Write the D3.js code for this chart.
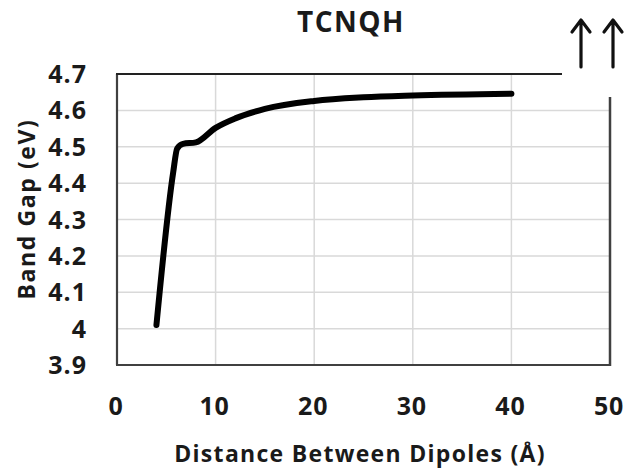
<!DOCTYPE html>
<html><head><meta charset="utf-8">
<script src="https://cdn.jsdelivr.net/npm/d3@7"></script>
<style>body{margin:0;background:#fff}text{font-family:"Open Sans",sans-serif;font-weight:700;fill:#1a1a1a}</style>
</head><body><svg id="c" width="628" height="468"></svg>
<script>
const distance = [4, 5.7, 6.1, 6.7, 8, 10, 12, 15, 20, 25, 30, 40];
const bandGap  = [4.01, 4.43, 4.495, 4.508, 4.512, 4.552, 4.578, 4.604, 4.626, 4.636, 4.641, 4.646];
const xTicks = [0, 10, 20, 30, 40, 50];
const yTicks = [3.9, 4, 4.1, 4.2, 4.3, 4.4, 4.5, 4.6, 4.7];
const title = "TCNQH";
const xTitle = "Distance Between Dipoles (Å)";
const yTitle = "Band Gap  (eV)";

const svg = d3.select("#c");
const L = 117, R = 610, T = 74, B = 365;
const x = d3.scaleLinear().domain([0, 50]).range([L, R]);
const y = d3.scaleLinear().domain([3.9, 4.7]).range([B, T]);

// grid
svg.append("g").selectAll("line").data(yTicks.filter(v => v > 3.9 && v < 4.7)).join("line")
  .attr("x1", L).attr("x2", R).attr("y1", d => y(d)).attr("y2", d => y(d))
  .attr("stroke", "#d9d9d9").attr("stroke-width", 1.5);
svg.append("g").selectAll("line").data(xTicks.filter(v => v > 0 && v < 50)).join("line")
  .attr("y1", T).attr("y2", B).attr("x1", d => x(d)).attr("x2", d => x(d))
  .attr("stroke", "#d9d9d9").attr("stroke-width", 1.5);

// frame
const ax = "#404040";
svg.append("line").attr("x1", L).attr("x2", L).attr("y1", T).attr("y2", B).attr("stroke", ax).attr("stroke-width", 2.2);
svg.append("line").attr("x1", L - 1).attr("x2", R + 1).attr("y1", B).attr("y2", B).attr("stroke", ax).attr("stroke-width", 2.2);
svg.append("line").attr("x1", L - 1).attr("x2", 562).attr("y1", T).attr("y2", T).attr("stroke", "#222").attr("stroke-width", 2.2);
svg.append("line").attr("x1", R).attr("x2", R).attr("y1", 97).attr("y2", B + 1).attr("stroke", ax).attr("stroke-width", 2.5);

// axes labels
svg.append("g").selectAll("text").data(yTicks).join("text")
  .attr("x", 87).attr("y", d => y(d) + 9).attr("text-anchor", "end")
  .attr("font-size", 25).attr("letter-spacing", 1).text(d => d === 4 ? "4" : d.toFixed(1));
svg.append("g").selectAll("text").data(xTicks).join("text")
  .attr("x", d => x(d) - 1).attr("y", 415).attr("text-anchor", "middle")
  .attr("font-size", 25).attr("letter-spacing", 0.8).text(d => d);

// line
const line = d3.line().x((d, i) => x(distance[i])).y(d => y(d)).curve(d3.curveMonotoneX);
svg.append("path").attr("d", line(bandGap)).attr("fill", "none").attr("stroke", "#000")
  .attr("stroke-width", 6).attr("stroke-linecap", "round").attr("stroke-linejoin", "round");

// titles
svg.append("text").attr("x", 351).attr("y", 32).attr("text-anchor", "middle").attr("font-size", 28).attr("letter-spacing", 1.5).text(title);
svg.append("text").attr("x", 360).attr("y", 462).attr("text-anchor", "middle").attr("font-size", 23).attr("letter-spacing", 1.3).text(xTitle);
svg.append("text").attr("transform", "translate(35,209) rotate(-90)").attr("text-anchor", "middle").attr("font-size", 23).attr("letter-spacing", 1.6).text(yTitle);

// arrows
[581, 613].forEach(ax0 => {
  svg.append("path").attr("d", `M${ax0},67 L${ax0},21 M${ax0-9},32 L${ax0},20 L${ax0+9},32`)
    .attr("fill", "none").attr("stroke", "#111").attr("stroke-width", 3.2)
    .attr("stroke-linecap", "round").attr("stroke-linejoin", "round");
});
</script></body></html>
